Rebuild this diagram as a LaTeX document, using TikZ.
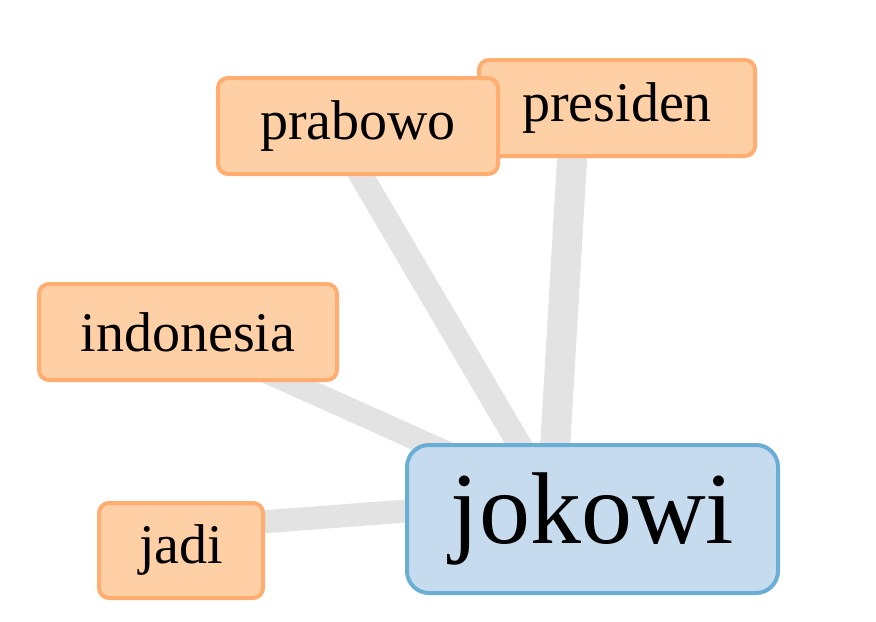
\documentclass[tikz,border=0pt]{standalone}
\usepackage{fontspec}
\setmainfont{Liberation Serif}
\definecolor{edgegray}{HTML}{E3E3E3}
\definecolor{orfill}{HTML}{FFD0A5}
\definecolor{ordraw}{HTML}{FFAD70}
\definecolor{blfill}{HTML}{C6DCEE}
\definecolor{bldraw}{HTML}{6AAED6}
\tikzset{
  word/.style={draw=ordraw, fill=orfill, line width=2pt, rounded corners=5pt,
    inner sep=0pt, font=\fontsize{28}{33}\selectfont, minimum height=48pt},
  hubbox/.style={draw=bldraw, fill=blfill, line width=2pt, rounded corners=11pt,
    inner sep=0pt, font=\fontsize{51}{60}\selectfont, minimum width=185.5pt, minimum height=74pt},
  link/.style={draw=edgegray, line cap=butt}
}
\begin{document}
\begin{tikzpicture}[x=0.5pt, y=-0.5pt]
\useasboundingbox (0,0) rectangle (876,621);
\coordinate (hub) at (552,500);
\coordinate (pPres) at (575,108);
\coordinate (pPrab) at (332,126);
\coordinate (pIndo) at (178,332);
\coordinate (pJadi) at (181,528);
\draw[link, line width=15pt] (hub) -- (pPres);
\draw[link, line width=12pt] (hub) -- (pPrab);
\draw[link, line width=11.5pt] (hub) -- (pIndo);
\draw[link, line width=11.5pt] (hub) -- (pJadi);
\node[word, minimum width=138pt] (presiden) at (617,108) {presiden};
\node[word, minimum width=140pt] (prabowo) at (358,126) {prabowo};
\node[word, minimum width=149pt] (indonesia) at (188,332) {indonesia};
\node[word, minimum width=82pt, minimum height=47.5pt] (jadi) at (181,550.5) {jadi};
\node[hubbox] (jokowi) at (592.5,519) {jokowi};
\end{tikzpicture}
\end{document}
